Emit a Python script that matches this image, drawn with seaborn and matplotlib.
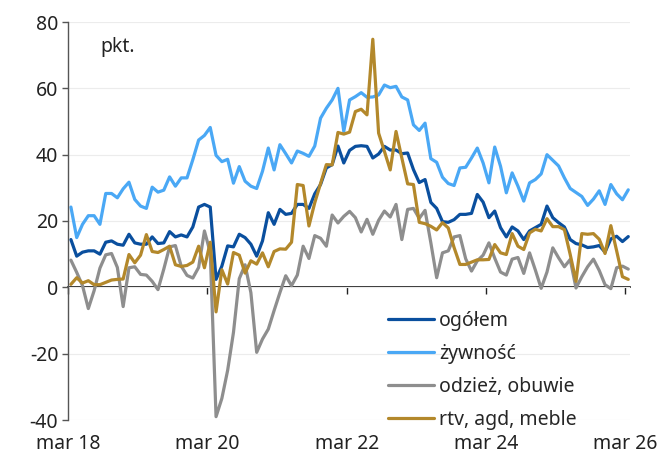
import numpy as np
import pandas as pd
import matplotlib
matplotlib.use('Agg')
import matplotlib.pyplot as plt
import seaborn as sns

# monthly data, mar 18 .. mar 26
ogolem = [14.4, 9.4, 10.6, 11.0, 11.0, 10.0, 13.6, 14.0, 13.0, 12.7,
          16.0, 13.4, 13.0, 13.0, 15.2, 13.2, 13.4, 16.8, 15.2, 15.8,
          15.2, 18.2, 24.2, 25.0, 24.2, 2.4, 6.4, 12.5, 12.2, 16.0,
          15.0, 13.0, 9.4, 14.0, 22.5, 19.0, 23.5, 22.0, 22.3, 25.0,
          25.0, 23.8, 28.2, 31.0, 36.0, 37.0, 42.6, 37.5, 41.3, 42.5,
          42.7, 42.5, 39.0, 40.2, 42.5, 41.4, 41.4, 40.3, 40.5, 35.5,
          31.6, 32.5, 25.6, 23.8, 19.8, 19.6, 20.4, 22.0, 22.0, 22.3,
          28.0, 25.7, 21.0, 23.0, 18.0, 15.2, 18.2, 17.0, 14.4, 17.0,
          18.0, 19.0, 24.5, 21.0, 19.5, 18.2, 14.4, 13.2, 12.8, 12.0,
          12.2, 12.6, 10.6, 14.6, 15.4, 13.8, 15.3]
zywnosc = [24.2, 15.0, 19.0, 21.6, 21.6, 19.0, 28.3, 28.3, 27.0, 29.7,
           31.7, 26.5, 24.5, 23.8, 30.2, 28.7, 29.3, 33.3, 30.5, 33.0,
           33.0, 38.5, 44.4, 45.8, 48.2, 39.8, 37.9, 38.6, 31.4, 36.4,
           32.0, 30.5, 29.8, 35.0, 42.0, 35.4, 43.0, 40.3, 37.5, 41.1,
           40.4, 39.5, 42.6, 51.0, 54.0, 56.5, 60.0, 47.0, 56.5, 57.5,
           58.7, 57.3, 57.4, 58.0, 61.0, 60.2, 60.6, 57.4, 56.5, 49.0,
           47.3, 49.5, 38.8, 37.7, 33.2, 31.3, 30.7, 36.0, 36.2, 39.0,
           42.0, 37.5, 31.5, 42.3, 36.5, 28.5, 34.5, 30.5, 26.0, 31.5,
           32.5, 34.2, 40.0, 38.3, 36.6, 33.0, 29.8, 28.6, 27.4, 24.7,
           26.6, 29.1, 25.0, 31.0, 28.2, 26.4, 29.4]
odziez = [8.2, 4.5, 0.5, -6.4, -1.0, 5.8, 9.8, 10.2, 6.0, -5.8,
          5.9, 6.2, 3.9, 3.7, 1.8, -0.7, 5.5, 12.2, 12.6, 6.4,
          3.6, 2.8, 6.0, 17.0, 10.5, -39.0, -33.5, -25.0, -13.6, 2.6,
          6.8, -1.6, -19.6, -15.6, -12.6, -7.0, -1.6, 3.5, 0.5, 3.7,
          12.4, 8.7, 15.6, 14.8, 12.4, 21.8, 19.4, 21.4, 22.9, 21.0,
          16.7, 20.5, 16.0, 20.2, 23.0, 21.2, 25.0, 14.4, 23.5, 23.8,
          20.8, 23.2, 13.4, 2.9, 10.4, 11.0, 15.2, 15.6, 8.6, 4.9,
          8.0, 9.7, 13.4, 8.8, 4.6, 3.7, 8.5, 9.0, 4.2, 10.4,
          5.2, -0.3, 4.6, 11.9, 8.9, 6.2, 8.4, -0.2, 3.2, 6.2,
          8.5, 5.1, 0.8, -0.4, 5.9, 6.4, 5.5]
rtv = [0.9, 2.9, 1.3, 2.0, 0.8, 0.8, 1.5, 2.2, 2.4, 2.5,
       9.9, 7.4, 9.7, 15.9, 10.8, 10.5, 11.4, 12.4, 6.8, 6.3,
       6.6, 7.6, 12.4, 5.9, 13.6, -7.4, 5.3, 1.0, 10.5, 9.7,
       4.3, 8.0, 7.0, 10.4, 6.2, 10.8, 11.6, 11.5, 13.6, 31.0,
       30.7, 18.5, 25.5, 31.3, 37.0, 36.9, 46.7, 46.2, 46.8, 53.0,
       53.7, 52.0, 74.8, 46.5, 41.0, 35.4, 47.0, 39.0, 31.2, 31.0,
       19.6, 19.2, 18.4, 17.3, 19.5, 17.9, 12.0, 6.9, 6.9, 7.6,
       8.3, 8.3, 8.4, 12.9, 10.4, 9.9, 16.2, 12.4, 11.4, 16.4,
       17.5, 17.0, 20.7, 18.3, 18.3, 17.4, 9.9, 1.8, 16.2, 16.0,
       16.2, 14.5, 10.2, 18.6, 11.0, 3.2, 2.4]

series_names = ['ogółem', 'żywność', 'odzież, obuwie', 'rtv, agd, meble']
colors = ['#0a4f9e', '#4aa8f5', '#8e8e8e', '#b3882b']
tick_labels = ['mar 18', 'mar 20', 'mar 22', 'mar 24', 'mar 26']

months = np.arange(len(ogolem))
df = pd.concat([
    pd.DataFrame({'m': months, 'val': vals, 'seria': name})
    for name, vals in zip(series_names, [ogolem, zywnosc, odziez, rtv])
])

sns.set_style('white')
plt.rcParams['font.family'] = ['Noto Sans', 'DejaVu Sans']
plt.rcParams['axes.unicode_minus'] = False

fig = plt.figure(figsize=(6.62, 4.57), dpi=100)
ax = fig.add_axes([68 / 662, 1 - 420 / 457, 562 / 662, 398 / 457])

sns.lineplot(data=df, x='m', y='val', hue='seria', hue_order=series_names,
             palette=dict(zip(series_names, colors)), linewidth=2.3, ax=ax)

ax.set_xlim(-0.5, 96.3)
ax.set_ylim(-40, 80)
ax.set_yticks(np.arange(-40, 81, 20))
ax.yaxis.grid(True, color='#ececec', lw=0.8)
ax.set_axisbelow(True)

for s in ['top', 'right', 'bottom']:
    ax.spines[s].set_visible(False)
ax.spines['left'].set_color('#555555')
ax.spines['left'].set_linewidth(1.0)

tick_pos = np.arange(-0.5, 97, 24)
ax.set_xticks(tick_pos)
ax.set_xticklabels(tick_labels)
ax.tick_params(axis='x', length=0, pad=10, labelsize=14, labelcolor='#222222')
ax.tick_params(axis='y', left=True, length=4, width=1, color='#555555',
               direction='out', pad=3, labelsize=14, labelcolor='#222222')
ax.set_xlabel('')
ax.set_ylabel('')

# zero line with small ticks
sec = ax.secondary_xaxis(40 / 120)
sec.set_xticks(tick_pos)
sec.tick_params(axis='x', length=5, width=1, color='#222222', labelbottom=False, labeltop=False)
for s in sec.spines.values():
    s.set_color('#111111')
    s.set_linewidth(1.2)

ax.text(0.057, 0.937, 'pkt.', transform=ax.transAxes, fontsize=14,
        va='center', ha='left', color='#222222')

sns.move_legend(ax, 'upper left', bbox_to_anchor=(0.569, 0.275), frameon=False,
                title=None, fontsize=14, handlelength=2.4, handletextpad=0.25,
                labelspacing=0.68, borderpad=0, borderaxespad=0)

fig.savefig('out.png', dpi=100)
